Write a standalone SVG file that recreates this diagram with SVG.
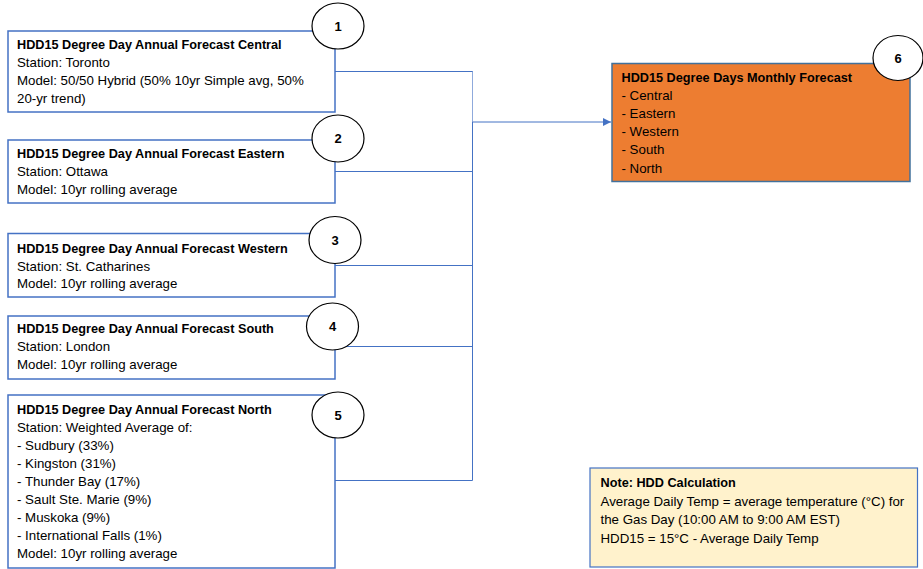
<svg xmlns="http://www.w3.org/2000/svg" width="923" height="569" viewBox="0 0 923 569">
<style>
.box{fill:#ffffff;stroke:#4472C4;stroke-width:1.5}
.t{font-family:"Liberation Sans",Arial,sans-serif;font-size:13.3px;fill:#000000}
.b{font-weight:bold;font-size:12.7px}
.c{fill:#ffffff;stroke:#000000;stroke-width:1.2}
.n{font-family:"Liberation Sans",Arial,sans-serif;font-size:13px;font-weight:bold;text-anchor:middle;fill:#000000}
.ln{fill:none;stroke:#4472C4;stroke-width:1}
</style>
<defs>
<marker id="arr" viewBox="0 0 10 10" refX="10" refY="5" markerWidth="8" markerHeight="8" markerUnits="userSpaceOnUse" orient="auto">
<path d="M0,0 L10,5 L0,10 z" fill="#4472C4"/>
</marker>
</defs>
<rect width="923" height="569" fill="#ffffff"/>
<g id="connectors">
<path class="ln" d="M335,71.5 H472.5 M335,171.5 H472.5 M335,265.5 H472.5 M335,346.5 H472.5 M335,480.5 H472.5"/>
<path class="ln" d="M472.5,71 V122" stroke-opacity="0.6"/>
<path class="ln" d="M472.5,122 V480.5" stroke-width="2"/>
<path class="ln" d="M472.5,122 H611" stroke-width="1.5" marker-end="url(#arr)"/>
</g>
<g id="node1">
<rect class="box" x="8" y="31" width="327" height="81"/>
<text class="t" x="17" y="48.5"><tspan class="b">HDD15 Degree Day Annual Forecast Central</tspan><tspan x="17" dy="18.3">Station: Toronto</tspan><tspan x="17" dy="18.3">Model: 50/50 Hybrid (50% 10yr Simple avg, 50%</tspan><tspan x="17" dy="18.3">20-yr trend)</tspan></text>
<ellipse class="c" cx="338" cy="26" rx="26" ry="23"/>
<text class="n" x="338" y="30.5">1</text>
</g>
<g id="node2">
<rect class="box" x="8" y="140" width="327" height="63"/>
<text class="t" x="17" y="157.5"><tspan class="b">HDD15 Degree Day Annual Forecast Eastern</tspan><tspan x="17" dy="18.3">Station: Ottawa</tspan><tspan x="17" dy="18.3">Model: 10yr rolling average</tspan></text>
<ellipse class="c" cx="338" cy="138.5" rx="26" ry="23.5"/>
<text class="n" x="338" y="143">2</text>
</g>
<g id="node3">
<rect class="box" x="8" y="233.5" width="327" height="63.5"/>
<text class="t" x="17" y="252.5"><tspan class="b">HDD15 Degree Day Annual Forecast Western</tspan><tspan x="17" dy="18">Station: St. Catharines</tspan><tspan x="17" dy="17.5">Model: 10yr rolling average</tspan></text>
<ellipse class="c" cx="335" cy="240" rx="26" ry="23.5"/>
<text class="n" x="335" y="244.5">3</text>
</g>
<g id="node4">
<rect class="box" x="8" y="316" width="327" height="63"/>
<text class="t" x="17" y="332.5"><tspan class="b">HDD15 Degree Day Annual Forecast South</tspan><tspan x="17" dy="18.3">Station: London</tspan><tspan x="17" dy="18.3">Model: 10yr rolling average</tspan></text>
<ellipse class="c" cx="332.5" cy="326.5" rx="26" ry="23.5"/>
<text class="n" x="332.5" y="331">4</text>
</g>
<g id="node5">
<rect class="box" x="8" y="395" width="327" height="173"/>
<text class="t" x="17" y="413.5"><tspan class="b">HDD15 Degree Day Annual Forecast North</tspan><tspan x="17" dy="18">Station: Weighted Average of:</tspan><tspan x="17" dy="18">- Sudbury (33%)</tspan><tspan x="17" dy="18">- Kingston (31%)</tspan><tspan x="17" dy="18">- Thunder Bay (17%)</tspan><tspan x="17" dy="18">- Sault Ste. Marie (9%)</tspan><tspan x="17" dy="18">- Muskoka (9%)</tspan><tspan x="17" dy="18">- International Falls (1%)</tspan><tspan x="17" dy="18">Model: 10yr rolling average</tspan></text>
<ellipse class="c" cx="338" cy="415" rx="26" ry="23"/>
<text class="n" x="338" y="419.5">5</text>
</g>
<g id="node6">
<rect x="612" y="63.5" width="298" height="118" fill="#ED7D31" stroke="#41719C" stroke-width="1.5"/>
<text class="t" x="621.5" y="81.5"><tspan class="b">HDD15 Degree Days Monthly Forecast</tspan><tspan x="621.5" dy="18.2">- Central</tspan><tspan x="621.5" dy="18.2">- Eastern</tspan><tspan x="621.5" dy="18.2">- Western</tspan><tspan x="621.5" dy="18.2">- South</tspan><tspan x="621.5" dy="18.2">- North</tspan></text>
<ellipse class="c" cx="898" cy="58" rx="25" ry="22.5"/>
<text class="n" x="898" y="62.5">6</text>
</g>
<g id="note">
<rect x="590" y="468" width="327.5" height="99" fill="#FFF2CC" stroke="#4472C4" stroke-width="1.2"/>
<text class="t" x="600.5" y="487"><tspan class="b">Note: HDD Calculation</tspan><tspan x="600.5" dy="18.5">Average Daily Temp = average temperature (°C) for</tspan><tspan x="600.5" dy="18.5">the Gas Day (10:00 AM to 9:00 AM EST)</tspan><tspan x="600.5" dy="18.5">HDD15 = 15°C - Average Daily Temp</tspan></text>
</g>
</svg>
